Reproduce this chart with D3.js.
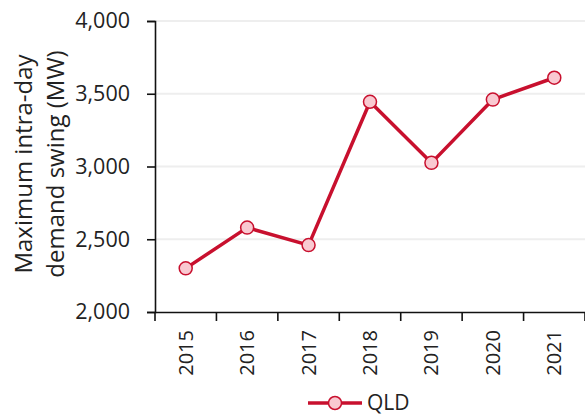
<!DOCTYPE html>
<html><head><meta charset="utf-8">
<script src="https://cdn.jsdelivr.net/npm/d3@7"></script>
<style>body{margin:0;background:#fff;} text{font-family:"Open Sans","Noto Sans",sans-serif;fill:#222;}</style>
</head><body>
<svg id="c" width="585" height="414"></svg>
<script>
const years = ["2015","2016","2017","2018","2019","2020","2021"];
const qld = [2300, 2580, 2460, 3445, 3025, 3460, 3610];
const yTicks = [2000, 2500, 3000, 3500, 4000];
const seriesName = "QLD";

(function(){
const svg = d3.select("#c");
const L = 155, R = 585, T = 21, B = 312;
const x = d3.scaleBand().domain(years).range([L, R]);
const y = d3.scaleLinear().domain([2000, 4000]).range([B, T]);
const red = "#C8102E", pink = "#F9C9D1";

// gridlines
svg.append("g").selectAll("line").data(yTicks.slice(1)).join("line")
  .attr("x1", L).attr("x2", R).attr("y1", d => y(d)).attr("y2", d => y(d))
  .attr("stroke", "#eeeeee").attr("stroke-width", 2);

// y axis
const ya = svg.append("g").attr("transform", `translate(${L},0)`)
  .call(d3.axisLeft(y).tickValues(yTicks).tickFormat(d3.format(",")).tickSize(8).tickPadding(17));
ya.select(".domain").attr("stroke", "#111").attr("stroke-width", 1.6);
ya.selectAll(".tick line").attr("stroke", "#111").attr("stroke-width", 1.6);
ya.selectAll("text").attr("font-size", 21.5).style("fill", "#222");

// x axis
const xa = svg.append("g").attr("transform", `translate(0,${B})`)
  .call(d3.axisBottom(x).tickSize(0).tickSizeOuter(0));
xa.select(".domain").attr("stroke", "#111").attr("stroke-width", 1.6);
xa.selectAll(".tick line").remove();
xa.selectAll(".tick text")
  .attr("transform", "rotate(-90)").attr("x", -18).attr("y", 0).attr("dy", "0.35em")
  .attr("text-anchor", "end").attr("font-size", 20).style("fill", "#222");
// band boundary ticks
const bounds = years.map(d => x(d)).concat([R]);
svg.append("g").selectAll("line").data(bounds).join("line")
  .attr("x1", d => d).attr("x2", d => d).attr("y1", B).attr("y2", B + 9)
  .attr("stroke", "#111").attr("stroke-width", 1.6);

// axis title
const t = svg.append("text").attr("transform", "translate(0,164) rotate(-90)")
  .attr("text-anchor", "middle").attr("font-size", 24);
t.append("tspan").attr("x", 0).attr("y", 32).text("Maximum intra-day");
t.append("tspan").attr("x", 0).attr("y", 64).text("demand swing (MW)");

// line
const cx = d => x(d) + x.bandwidth() / 2;
svg.append("path").datum(qld)
  .attr("d", d3.line().x((d, i) => cx(years[i])).y(d => y(d)))
  .attr("fill", "none").attr("stroke", red).attr("stroke-width", 3.5).attr("stroke-linejoin", "round");
svg.append("g").selectAll("circle").data(qld).join("circle")
  .attr("cx", (d, i) => cx(years[i])).attr("cy", d => y(d)).attr("r", 6.5)
  .attr("fill", pink).attr("stroke", red).attr("stroke-width", 1.5);

// legend
const lg = svg.append("g").attr("transform", "translate(0,403)");
lg.append("line").attr("x1", 308).attr("x2", 362).attr("y1", 0).attr("y2", 0)
  .attr("stroke", red).attr("stroke-width", 3.5);
lg.append("circle").attr("cx", 335).attr("cy", 0).attr("r", 6.5)
  .attr("fill", pink).attr("stroke", red).attr("stroke-width", 1.5);
lg.append("text").attr("x", 367).attr("y", 6.5).attr("font-size", 21).text(seriesName);
})();
</script>
</body></html>
